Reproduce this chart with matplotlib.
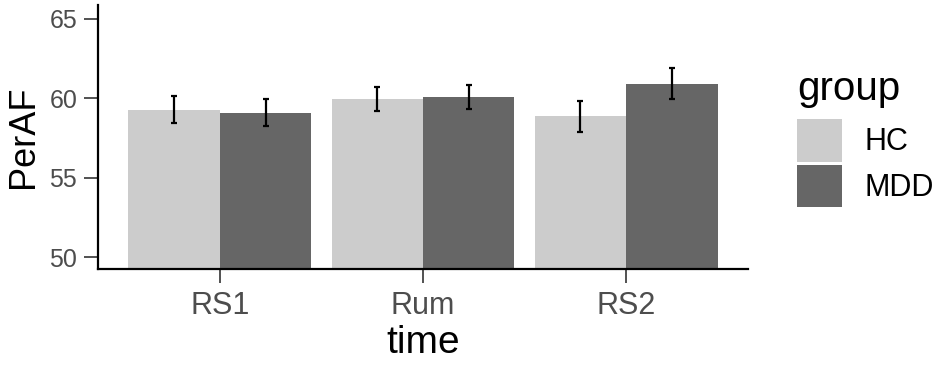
import matplotlib
matplotlib.use("Agg")
import matplotlib.pyplot as plt
import numpy as np
from matplotlib.patches import Patch

plt.rcParams['font.family'] = ['Liberation Sans', 'DejaVu Sans']

times = ["RS1", "Rum", "RS2"]
groups = ["HC", "MDD"]
means = {"HC": [59.27, 59.94, 58.87], "MDD": [59.06, 60.06, 60.88]}
err_lo = {"HC": [58.43, 59.21, 57.89], "MDD": [58.26, 59.35, 59.94]}
err_hi = {"HC": [60.17, 60.69, 59.84], "MDD": [59.94, 60.84, 61.89]}
colors = {"HC": "#CCCCCC", "MDD": "#666666"}

W, H = 944, 369
fig = plt.figure(figsize=(W / 100, H / 100), dpi=100)
ax_bottom, ax_top = 268.5, 5.0
ax = fig.add_axes([98 / W, (H - ax_bottom) / H, (748 - 98) / W, (ax_bottom - ax_top) / H])

ymin = 49.28
x = np.arange(len(times))
bw = 0.45
for i, g in enumerate(groups):
    off = (i - 0.5) * bw
    m = np.array(means[g])
    ax.bar(x + off, m - ymin, bottom=ymin, width=bw, color=colors[g], edgecolor='none', label=g)
    lo = m - np.array(err_lo[g])
    hi = np.array(err_hi[g]) - m
    ax.errorbar(x + off, m, yerr=[lo, hi], fmt='none', ecolor='black', elinewidth=1.6,
                capsize=2.3, capthick=1.6)

ax.set_xlim(-0.6, 2.6)
ax.set_ylim(ymin, 65.88)
ax.set_yticks([50, 55, 60, 65])
ax.set_xticks(x)
ax.set_xticklabels(times)

for s in ['top', 'right']:
    ax.spines[s].set_visible(False)
for s in ['left', 'bottom']:
    ax.spines[s].set_linewidth(1.6)
    ax.spines[s].set_color('black')

ax.tick_params(axis='both', length=10, width=1.2, color='#333333', labelcolor='#4D4D4D')
ax.tick_params(axis='x', pad=6, labelsize=22)
ax.tick_params(axis='y', pad=5, labelsize=18)

ax.set_xlabel("time", fontsize=28, color='black', labelpad=3)
ax.set_ylabel("PerAF", fontsize=26, color='black', labelpad=6)

handles = [Patch(facecolor=colors[g], edgecolor='none') for g in groups]
leg = fig.legend(handles, groups, loc='upper left', bbox_to_anchor=(785 / W, 1 - 58 / H),
                 frameon=False, fontsize=22, title="group", title_fontsize=29,
                 handlelength=1.45, handleheight=1.75, labelspacing=0.1,
                 handletextpad=0.75, alignment='left', borderaxespad=0)
leg._legend_box.sep = 8

fig.savefig("out.png", dpi=100)
